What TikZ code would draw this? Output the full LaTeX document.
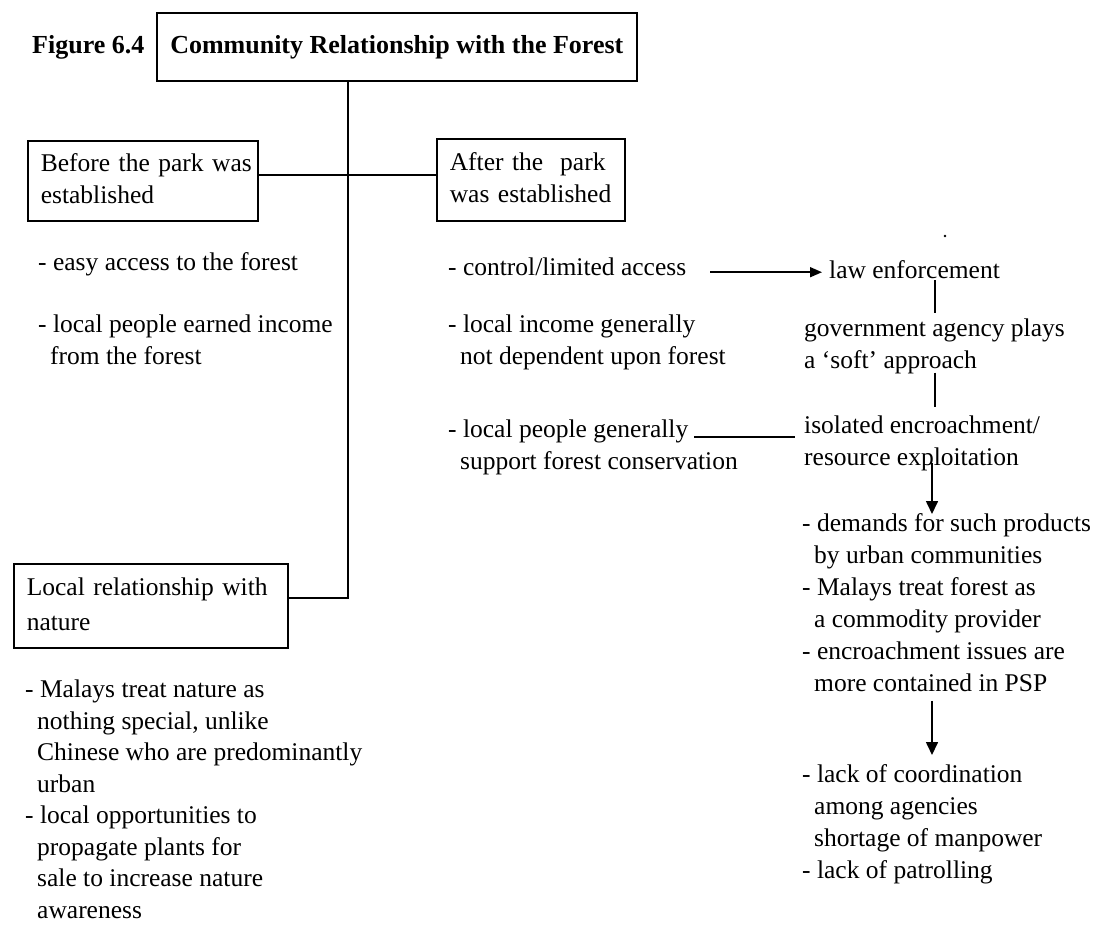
\documentclass[tikz,border=0pt]{standalone}
\usepackage{fontspec}
\setmainfont{Liberation Serif}
\usetikzlibrary{arrows.meta}
\newcommand\myind{\hspace*{12pt}}
\begin{document}
\begin{tikzpicture}[x=1pt,y=-1pt,
  every node/.style={font=\fontsize{25.5pt}{32pt}\selectfont},
  lst/.style={anchor=north west, inner sep=0pt, align=left,
    execute at begin node=\strut, execute at end node=\strut},
  box/.style={draw, line width=1.6pt, anchor=north west, inner xsep=13pt,
    inner ysep=0pt, align=left,
    execute at begin node=\strut, execute at end node=\strut},
  link/.style={line width=1.6pt},
  arr/.style={line width=1.6pt, -{Triangle[length=13pt,width=12pt]}}
]
\useasboundingbox (0,0) rectangle (1098,930);

% heading
\node[box, align=center, minimum width=480pt, minimum height=68pt,
  font=\fontsize{26pt}{32pt}\selectfont\bfseries] (title) at (156,12)
  {Community Relationship with the Forest};
\coordinate (figx) at (32,0);
\node[anchor=base west, inner sep=0pt, font=\fontsize{26pt}{32pt}\selectfont\bfseries]
  (figlabel) at (title.base -| figx) {Figure 6.4};

% the three boxes
\node[box, text width=204pt, minimum height=80pt] (before) at (27,140)
  {\mbox{Before the park was}\\established};
\node[box, text width=162pt, minimum height=82pt] (after) at (436,138)
  {\mbox{After the\ \ park}\\\mbox{was established}};
\node[box, text width=248pt, minimum height=84pt,
  font=\fontsize{25.5pt}{35pt}\selectfont] (local) at (13,563)
  {\mbox{Local relationship with}\\nature};

% tree lines
\coordinate (trunk) at (348,0);
\coordinate (lconn) at ([yshift=8pt]local.east);
\draw[link] (title.south -| trunk) -- (trunk |- lconn) -- (lconn);
\coordinate (bconn) at ([yshift=6pt]before.east);
\draw[link] (bconn) -- (bconn -| after.west);

% before the park
\node[lst] (L1) at (38,248) {- easy access to the forest};
\node[lst] (L2) at (38,315) {- local people earned income\\\myind from the forest};

% after the park
\node[lst] (M1) at (448,253) {- control/limited access};
\node[lst] (M2) at (448,315) {- local income generally\\\myind not dependent upon forest};
\node[lst] (M3) at (448,420) {- local people generally\\\myind support forest conservation};

% consequences
\node[lst] (R1) at (829,256) {law enforcement};
\node[lst] (R2) at (804,319) {government agency plays\\a ‘soft’ approach};
\node[lst] (R3) at (804,416) {isolated encroachment/\\resource exploitation};
\node[lst] (R4) at (802,513) {- demands for such products\\\myind by urban communities\\- Malays treat forest as\\\myind a commodity provider\\- encroachment issues are\\\myind more contained in PSP};
\node[lst] (R5) at (802,764) {- lack of coordination\\\myind among agencies\\\myind shortage of manpower\\- lack of patrolling};

% local relationship with nature
\node[lst, font=\fontsize{25.5pt}{31.5pt}\selectfont] (L3) at (25,680)
  {- Malays treat nature as\\\myind nothing special, unlike\\\myind Chinese who are predominantly\\\myind urban\\- local opportunities to\\\myind propagate plants for\\\myind sale to increase nature\\\myind awareness};

% connectors on the right
\coordinate (a1) at ([xshift=24pt,yshift=-3pt]M1.east);
\draw[arr, -{Triangle[length=12pt,width=10pt]}, shorten >=7pt] (a1) -- (a1 -| R1.west);
\coordinate (rcol) at (935,0);
\draw[link, shorten <=-8pt, shorten >=6pt] (R1.south -| rcol) -- (R2.north -| rcol);
\draw[link, shorten <=-6pt, shorten >=9pt] (R2.south -| rcol) -- (R3.north -| rcol);
\coordinate (acol) at (932,0);
\draw[arr, shorten <=-13pt, shorten >=-1pt] (R3.south -| acol) -- (R4.north -| acol);
\draw[arr, shorten >=9pt] (R4.south -| acol) -- (R5.north -| acol);
\coordinate (m3e) at (694,437);
\draw[link, shorten >=9pt] (m3e) -- (m3e -| R3.west);

% stray mark
\fill (945,236) circle (1.4pt);
\end{tikzpicture}
\end{document}
